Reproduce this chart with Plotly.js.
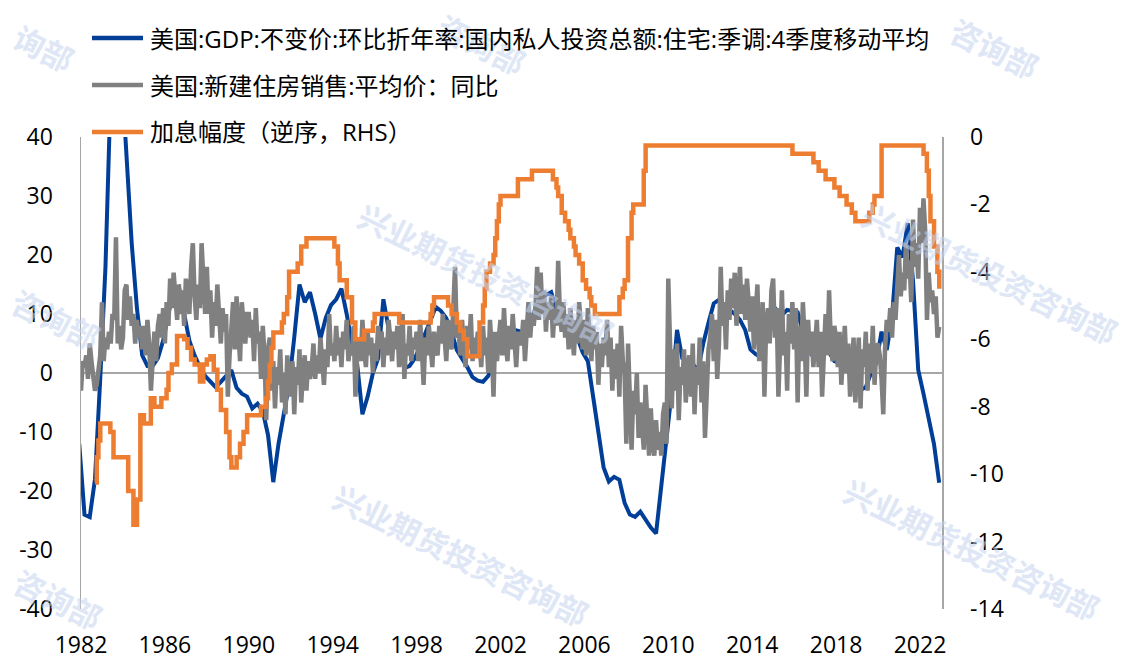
<!DOCTYPE html>
<html>
<head>
<meta charset="utf-8">
<script src="https://cdn.plot.ly/plotly-3.0.1.min.js"></script>
<style>
  html, body { margin: 0; padding: 0; background: #fff; }
  #chart { width: 1127px; height: 662px; }
</style>
</head>
<body>
<div id="chart"></div>
<script>
// ---------------- DATA ----------------
// Series names (legend)
const seriesNames = [
  "美国:GDP:不变价:环比折年率:国内私人投资总额:住宅:季调:4季度移动平均",
  "美国:新建住房销售:平均价：同比",
  "加息幅度（逆序，RHS）"
];

// Blue: quarterly, first value = 1981Q4, then 1982Q1 ... 2022Q4 (%)
const gdpResidential4QMA = [
  -12,
  -24, -24.4, -18, -1,
  18, 48, 56, 52,
  36, 22, 11, 3,
  1.2, 1.2, 2.5, 5.5,
  10, 14.2, 14.6, 10,
  5.5, 3, 1, -0.5,
  -1.5, -2.4, -1.5, -0.5,
  0.5, -2.5, -3.5, -4,
  -6, -5.2, -6.5, -10.5,
  -18.5, -12, -7, -2,
  6, 15, 12, 13.7,
  10, 5.8, 9.3, 11.5,
  12.5, 14.3, 10, 5,
  1.5, -7, -4, 0,
  2.5, 12.5, 7.5, 5.2,
  4.5, 0.8, 1.2, 2.5,
  4.5, 7, 9, 11.2,
  10.5, 9.3, 7, 3.9,
  2.5, 1, -0.7, -1.3,
  -1.5, -0.5, 1.7, 4,
  5.3, 6, 7.3, 7,
  6.8, 8.5, 11, 12.3,
  13.2, 13.7, 11, 7.8,
  7, 6.3, 6, 3.5,
  2, -4, -11, -16,
  -18.4, -17.6, -18.1, -22,
  -24, -24.4, -23.5, -25,
  -26.2, -27.2, -19, -10.2,
  -3, 7.3, 2.5, 2,
  1.5, 0.5, 5, 8.5,
  11.8, 12.4, 11.5, 10.7,
  10, 9, 7.3, 4,
  3.2, 2.7, 6, 9,
  10.7, 9.8, 10.7, 10.5,
  10.3, 7, 4, 2.7,
  3.5, 4.4, 3.5, 2,
  1.7, 0.6, 0, -2,
  -2.9, -2.4, 0, 1.7,
  7, 3.9, 9.5, 21.3,
  19.6, 25.4, 15.7, 0.5,
  -3.5, -7.4, -12, -18.6
];

// Gray: monthly, Jan 1982 ... Dec 2022 (% YoY)
const newHomePriceYoY = [
  -3, 2, 1, 3, -1, 5, 2, 0, -3, -2, 1, 3,          // 1982
  12, 2, 6, 4, 7, 5, 10, 9, 23, 5, 8, 4,            // 1983
  6, 14, 15, 9, 13, 8, 10, 5, 9, 6, 8, 4,           // 1984
  8, 3, 9, 5, -3, 4, 7, 2, 8, 10, 6, 11,            // 1985
  5, 12, 8, 16, 11, 17, 13, 9, 15, 10, 14, 8,       // 1986
  16, 12, 10, 18, 22, 13, 9, 15, 11, 22, 14, 10,    // 1987
  18, 10, 14, 6, 12, 8, 15, 9, 5, 11, 7, 10,        // 1988
  -4, 3, 8, 12, 4, 13, 7, 2, 12, 8, 5, 10,          // 1989
  10, 6, 9, 2, 11, 5, 7, -1, 8, 3, -8, 4,           // 1990
  6, -3, 2, -6, 1, -2, 4, -5, 0, -7, 3, -1,         // 1991
  -4, 2, -7, 1, -2, 4, -5, 0, 3, -3, 2, -1,         // 1992
  1, 5, -1, 3, 0, 6, 2, -2, 4, 1, 10, 3,            // 1993
  5, 2, 8, 3, 6, 1, 7, 4, 9, 2, 5, 3,               // 1994
  8, -4, 3, 6, 2, 9, 4, 1, 7, 3, 6, 0,              // 1995
  5, 2, 8, 4, 7, 1, 6, 3, 9, 5, 2, 7,               // 1996
  4, 8, 1, 6, 10, -1, 5, 3, 8, 2, 6, 4,             // 1997
  7, 2, 9, 4, -2, 6, 3, 8, 5, 1, 7, 4,              // 1998
  3, 8, 5, 10, 6, 2, 9, 7, 4, 11, 18, 6,            // 1999
  7, 3, 9, 5, 1, 8, 4, 10, 2, 6, 3, 7,              // 2000
  5, 1, 8, 3, 6, 0, 9, 4, -4, 7, 2, 6,              // 2001
  9, 3, 11, 5, 2, 8, 4, 10, 6, 1, 7, 5,             // 2002
  5, 9, 2, 7, 12, 6, 10, 8, 11, 18, 9, 17,          // 2003
  10, 14, 7, 12, 9, 13, 6, 11, 8, 19, 10, 7,        // 2004
  12, 6, 10, 4, 11, 7, 3, 9, 5, 12, 8, 4,           // 2005
  9, 3, 11, 6, 2, 8, 4, 7, -2, 5, 1, 6,             // 2006
  3, 9, 1, 6, -3, 4, -1, 5, -4, 8, 2, 0,            // 2007
  -12, 5, -8, -13, -3, -7, 0, -11, -5, -10, -13, -2, // 2008
  -9, -14, -6, -12, -14, -8, -13, -10, -14, -7, -5, -12, // 2009
  16, 2, -6, 4, -3, 5, -8, 1, -2, 4, -5, 0,         // 2010
  3, -4, 5, -7, 1, -2, 6, -5, 2, -11, -1, 4,        // 2011
  6, 10, 2, 9, -1, 5, 18, 8, 12, 4, 14, 9,          // 2012
  16, 11, 17, 8, 13, 18, 10, 15, 9, 16, 12, 7,      // 2013
  13, 4, 10, 15, 2, 9, 12, -4, 8, 11, 5, 14,        // 2014
  16, 6, 11, -4, 9, 14, 3, 7, -3, 10, 5, 12,        // 2015
  4, 11, -5, 8, 2, 12, 6, -4, 9, 3, 7, 1,           // 2016
  5, 9, 1, 7, -4, 6, 10, 3, 14, 5, 2, 8,            // 2017
  6, 1, 7, -2, 4, 8, 0, 5, -4, 3, 6, -5,            // 2018
  2, 6, -6, 4, 1, 7, -3, 5, 0, 8, -2, 4,            // 2019
  5, 3, -1, -7, 4, 9, 7, 11, 6, 12, 9, 15,          // 2020
  20, 13, 17, 14, 22, 16, 19, 12, 26, 18, 22, 16,   // 2021
  28, 22, 29.6, 24, 9, 17, 12, 14, 10, 13, 6, 7.8   // 2022
];

// Orange (RHS, reversed): change dates (decimal year) and levels (%)
const rateDates = [
  1982.67, 1982.75, 1982.83, 1982.92, 1983.4, 1983.55, 1984.25, 1984.5, 1984.67, 1984.83,
  1985.0, 1985.33, 1985.5, 1985.83, 1986.08, 1986.17, 1986.33, 1986.58, 1986.92, 1987.08,
  1987.25, 1987.42, 1987.67, 1987.83, 1988.0, 1988.17, 1988.33, 1988.5, 1988.67, 1988.92,
  1989.08, 1989.17, 1989.42, 1989.58, 1989.75, 1989.92, 1990.58, 1990.83, 1990.92, 1991.0,
  1991.08, 1991.17, 1991.58, 1991.67, 1991.83, 1991.92, 1992.33, 1992.5, 1992.75, 1994.08,
  1994.25, 1994.33, 1994.67, 1994.92, 1995.08, 1995.5, 1995.92, 1996.0, 1997.17, 1998.67,
  1998.75, 1998.83, 1999.5, 1999.67, 1999.92, 2000.08, 2000.25, 2000.42, 2001.0, 2001.17,
  2001.25, 2001.33, 2001.5, 2001.67, 2001.75, 2001.83, 2001.92, 2002.0, 2002.83, 2003.5,
  2004.5, 2004.67, 2004.75, 2004.92, 2005.08, 2005.25, 2005.33, 2005.5, 2005.58, 2005.75,
  2005.92, 2006.08, 2006.25, 2006.33, 2006.5, 2007.67, 2007.83, 2007.92, 2008.08, 2008.25,
  2008.33, 2008.83, 2008.92, 2015.92, 2016.92, 2017.17, 2017.5, 2017.92, 2018.17, 2018.5,
  2018.75, 2018.92, 2019.58, 2019.75, 2019.83, 2020.17, 2022.17, 2022.33, 2022.42, 2022.5,
  2022.67, 2022.83, 2022.92
];
const rateLevels = [
  -10.25, -9.5, -9.0, -8.5, -8.75, -9.5, -10.5, -11.5, -10.75, -8.25,
  -8.5, -7.75, -8.0, -7.75, -7.5, -7.0, -6.75, -5.9, -6.0, -6.25,
  -6.6, -6.75, -7.25, -6.75, -6.6, -6.5, -6.9, -7.5, -8.1, -8.75,
  -9.5, -9.8, -9.5, -9.1, -8.75, -8.25, -8.0, -7.75, -7.25, -6.75,
  -6.25, -5.8, -5.5, -5.25, -4.75, -4.0, -3.75, -3.25, -3.0, -3.25,
  -3.75, -4.25, -4.75, -5.5, -6.0, -5.75, -5.5, -5.25, -5.5, -5.25,
  -5.0, -4.75, -5.0, -5.25, -5.5, -5.75, -6.0, -6.5, -5.5, -5.0,
  -4.5, -4.0, -3.75, -3.5, -3.0, -2.5, -2.0, -1.75, -1.25, -1.0,
  -1.25, -1.5, -1.75, -2.25, -2.5, -2.75, -3.0, -3.25, -3.5, -3.75,
  -4.25, -4.5, -4.75, -5.0, -5.25, -4.75, -4.5, -4.25, -3.0, -2.25,
  -2.0, -1.0, -0.25, -0.5, -0.75, -1.0, -1.25, -1.5, -1.75, -2.0,
  -2.25, -2.5, -2.25, -2.0, -1.75, -0.25, -0.5, -1.0, -1.75, -2.5,
  -3.25, -4.0, -4.5
];

// Tick labels
const xTickYears = [1982, 1986, 1990, 1994, 1998, 2002, 2006, 2010, 2014, 2018, 2022];
const yLeftTicks = [-40, -30, -20, -10, 0, 10, 20, 30, 40];
const yLeftTickText = ["-40", "-30", "-20", "-10", "0", "10", "20", "30", "40"];
const yRightTicks = [-14, -12, -10, -8, -6, -4, -2, 0];
const yRightTickText = ["-14", "-12", "-10", "-8", "-6", "-4", "-2", "0"];

// Watermark texts (full ones and the parts visible at the picture's edges)
const watermarkFull = "兴业期货投资咨询部";
const watermarkParts = ["询部", "咨询部", "咨询部", "咨询部", "咨询部"];

// ---------------- STYLE / LAYOUT ----------------
const W = 1127, H = 662;
const plotL = 81, plotR = 942, plotT = 137, plotB = 609;
const pxX = px => (px - plotL) / (plotR - plotL);
const pxY = py => (plotB - py) / (plotB - plotT);

const colors = ["#003E98", "#808080", "#ED7D31"];
const FONT = "'Open Sans', 'Noto Sans CJK SC', sans-serif";

const blueX = gdpResidential4QMA.map((_, i) => 1981 + 11 / 12 + i * 0.25);
const grayX = newHomePriceYoY.map((_, i) => 1982 + i / 12);

const traces = [
  { x: blueX, y: gdpResidential4QMA, type: "scatter", mode: "lines", name: seriesNames[0],
    line: { color: colors[0], width: 4 }, yaxis: "y", hoverinfo: "skip" },
  { x: grayX, y: newHomePriceYoY, type: "scatter", mode: "lines", name: seriesNames[1],
    line: { color: colors[1], width: 4.5 }, yaxis: "y", hoverinfo: "skip" },
  { x: rateDates, y: rateLevels, type: "scatter", mode: "lines", name: seriesNames[2],
    line: { color: colors[2], width: 4.5, shape: "hv" }, yaxis: "y2", hoverinfo: "skip" }
];

const annotations = [];
const shapes = [];
const wmFont = { family: "'Noto Sans CJK SC', sans-serif", size: 31, color: "#C5D5F0", weight: 700 };

// Full watermark centres (pixels)
[[486, 273], [990, 272], [461, 554], [972, 548]].forEach(p => {
  annotations.push({
    xref: "paper", yref: "paper", x: pxX(p[0]), y: pxY(p[1]),
    xanchor: "center", yanchor: "middle", showarrow: false,
    text: watermarkFull, textangle: 26, opacity: 0.55, font: wmFont
  });
});
// Edge fragments (pixels), kept fully inside the picture
[[44, 48], [481, 44], [994, 48], [56, 318], [58, 598]].forEach((p, i) => {
  annotations.push({
    xref: "paper", yref: "paper", x: pxX(p[0]), y: pxY(p[1]),
    xanchor: "center", yanchor: "middle", showarrow: false,
    text: watermarkParts[i], textangle: 26, opacity: 0.55, font: wmFont
  });
});

// Custom legend
const legendRowsY = [38, 85, 132];
seriesNames.forEach((nm, i) => {
  shapes.push({
    type: "line", xref: "paper", yref: "paper",
    x0: pxX(92), x1: pxX(143), y0: pxY(legendRowsY[i]), y1: pxY(legendRowsY[i]),
    line: { color: colors[i], width: 4.5 }
  });
  annotations.push({
    xref: "paper", yref: "paper", x: pxX(148), y: pxY(legendRowsY[i]),
    xanchor: "left", yanchor: "middle", showarrow: false,
    text: nm, font: { family: FONT, size: 24, color: "#000" }
  });
});

const axisLineColor = "#A6A6A6";

const layout = {
  width: W, height: H,
  margin: { l: plotL, r: W - plotR, t: plotT, b: H - plotB, pad: 0 },
  paper_bgcolor: "#fff", plot_bgcolor: "#fff",
  showlegend: false,
  font: { family: FONT, size: 23, color: "#000" },
  xaxis: {
    range: [1982, 2023.05], tickmode: "array", tickvals: xTickYears,
    ticktext: xTickYears.map(String), showgrid: false, zeroline: false,
    showline: false, ticks: "", ticklabelstandoff: 20,
    tickfont: { family: FONT, size: 23, color: "#000" }
  },
  yaxis: {
    range: [-40, 40], tickmode: "array", tickvals: yLeftTicks, ticktext: yLeftTickText,
    showgrid: false, zeroline: true, zerolinecolor: axisLineColor, zerolinewidth: 1.5,
    showline: true, linecolor: axisLineColor, linewidth: 1.5, ticks: "",
    ticklabelstandoff: 22, tickfont: { family: FONT, size: 23, color: "#000" }
  },
  yaxis2: {
    range: [-14, 0], overlaying: "y", side: "right", tickmode: "array",
    tickvals: yRightTicks, ticktext: yRightTickText, showgrid: false, zeroline: false,
    showline: true, linecolor: axisLineColor, linewidth: 1.5, ticks: "",
    ticklabelstandoff: 22, tickfont: { family: FONT, size: 23, color: "#000" }
  },
  annotations: annotations,
  shapes: shapes
};

Plotly.newPlot("chart", traces, layout, { staticPlot: true, displayModeBar: false });
</script>
</body>
</html>
